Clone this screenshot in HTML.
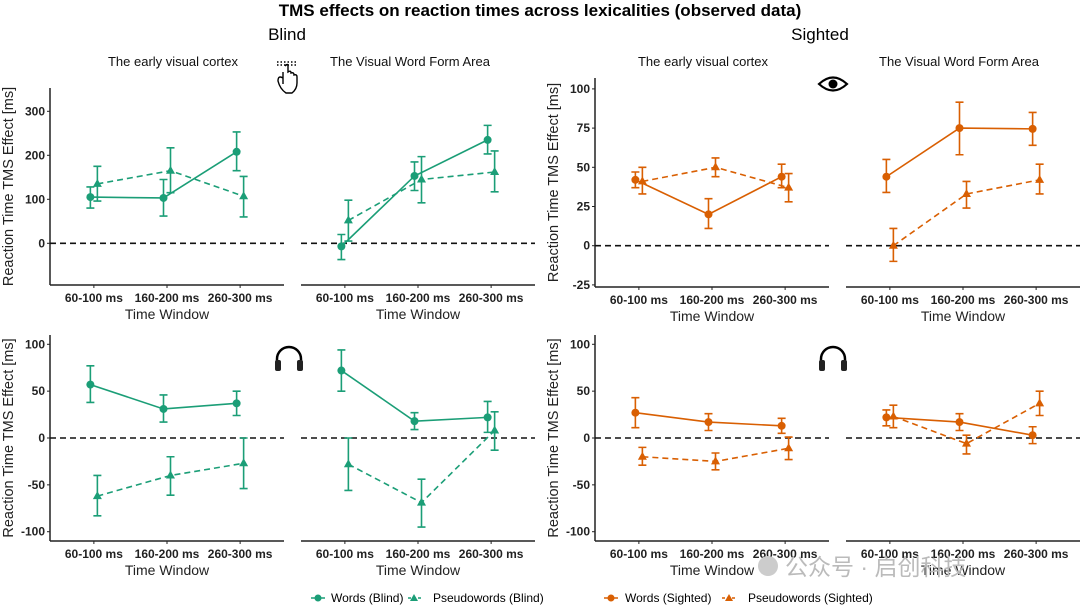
<!DOCTYPE html>
<html><head><meta charset="utf-8"><style>
body{margin:0;background:#fff;}
svg{display:block;font-family:"Liberation Sans",Arial,sans-serif;}
</style></head><body>
<svg id="chart" width="1080" height="607" viewBox="0 0 1080 607">
<text x="540" y="16" text-anchor="middle" font-size="17" font-weight="bold">TMS effects on reaction times across lexicalities (observed data)</text>
<text x="287" y="40" text-anchor="middle" font-size="17">Blind</text>
<text x="820" y="40" text-anchor="middle" font-size="17">Sighted</text>
<g id="panels"></g>
<g transform="translate(287,78)" fill="none" stroke="#000" stroke-width="1.4">
<path d="M-4,-6 v12 M-4,0 q-5,-3 -5,3 q2,8 8,12 h6 q5,-4 5,-10 v-6 q0,-3 -3,-2 q0,-3 -3,-2 q0,-3 -3,-1 v-6 q0,-3 -3,0"/>
<path d="M-10,-16 h20 M-10,-13 h20" stroke-dasharray="1.5 2"/>
</g>
<g transform="translate(833,84)">
<path d="M-14,0 Q0,-13 14,0 Q0,13 -14,0Z" fill="none" stroke="#000" stroke-width="2.2"/>
<circle r="4.5" fill="#000"/>
</g>
<g transform="translate(289,357)">
<path d="M-12,8 v-6 a12,12 0 0 1 24,0 v6" fill="none" stroke="#000" stroke-width="2.5"/>
<rect x="-14" y="3" width="6" height="11" rx="2" fill="#222"/><rect x="8" y="3" width="6" height="11" rx="2" fill="#222"/>
</g>
<g transform="translate(833,357)">
<path d="M-12,8 v-6 a12,12 0 0 1 24,0 v6" fill="none" stroke="#000" stroke-width="2.5"/>
<rect x="-14" y="3" width="6" height="11" rx="2" fill="#222"/><rect x="8" y="3" width="6" height="11" rx="2" fill="#222"/>
</g>
<g id="legend" font-size="12">
<g><line x1="311" y1="598" x2="325" y2="598" stroke="#1b9e77" stroke-width="1.5"/><circle cx="318" cy="598" r="3.5" fill="#1b9e77"/><text x="331" y="602">Words (Blind)</text></g>
<g><line x1="408" y1="598" x2="421" y2="598" stroke="#1b9e77" stroke-width="1.5" stroke-dasharray="3 2"/><path d="M414,594 l4,7 h-8z" fill="#1b9e77"/><text x="433" y="602">Pseudowords (Blind)</text></g>
<g><line x1="604" y1="598" x2="618" y2="598" stroke="#d95f02" stroke-width="1.5"/><circle cx="611" cy="598" r="3.5" fill="#d95f02"/><text x="625" y="602">Words (Sighted)</text></g>
<g><line x1="722" y1="598" x2="736" y2="598" stroke="#d95f02" stroke-width="1.5" stroke-dasharray="3 2"/><path d="M729,594 l4,7 h-8z" fill="#d95f02"/><text x="748" y="602">Pseudowords (Sighted)</text></g>
</g>
<g>
<circle cx="768" cy="566" r="10" fill="#ccc"/>
<text x="785" y="575" font-size="23" fill="#bbb" font-family="'Liberation Sans','Noto Sans CJK SC',sans-serif">公众号 · 启创科技</text>
</g>
</svg>
<script>
const categories = ["60-100 ms","160-200 ms","260-300 ms"];
const wordsTL = [105,103,208], wordsTLlo=[80,62,165], wordsTLhi=[128,145,253];
const pseudoTL = [135,165,107], pseudoTLlo=[96,115,60], pseudoTLhi=[175,217,152];
const wordsTL2 = [-7,153,235], wordsTL2lo=[-37,120,203], wordsTL2hi=[20,185,268];
const pseudoTL2 = [52,145,162], pseudoTL2lo=[5,92,117], pseudoTL2hi=[98,197,210];
const wordsTR = [42,20,44], wordsTRlo=[37,11,37], wordsTRhi=[47,30,52];
const pseudoTR = [41,50,37], pseudoTRlo=[33,44,28], pseudoTRhi=[50,56,46];
const wordsTR2 = [44,75,74.5], wordsTR2lo=[34,58,64], wordsTR2hi=[55,91.5,85];
const pseudoTR2 = [0,33,42], pseudoTR2lo=[-10,24,33], pseudoTR2hi=[11,41,52];
const wordsBL = [57,31,37], wordsBLlo=[38,17,24], wordsBLhi=[77,46,50];
const pseudoBL = [-62,-40,-27], pseudoBLlo=[-83,-61,-54], pseudoBLhi=[-40,-20,0];
const wordsBL2 = [72,18,22], wordsBL2lo=[50,9,6], wordsBL2hi=[94,27,39];
const pseudoBL2 = [-28,-69,8], pseudoBL2lo=[-56,-95,-13], pseudoBL2hi=[0,-44,28];
const wordsBR = [27,17,13], wordsBRlo=[11,8,5], wordsBRhi=[43,26,21];
const pseudoBR = [-20,-25,-11], pseudoBRlo=[-29,-34,-23], pseudoBRhi=[-10,-16,1];
const wordsBR2 = [22,17,3], wordsBR2lo=[13,8,-6], wordsBR2hi=[30,26,12];
const pseudoBR2 = [23,-6,37], pseudoBR2lo=[11,-17,24], pseudoBR2hi=[35,3,50];
const ticksBlindTop = [0,100,200,300];
const ticksSightedTop = [-25,0,25,50,75,100];
const ticksBottom = [-100,-50,0,50,100];

const NS="http://www.w3.org/2000/svg";
const root=document.getElementById('panels');
function mk(tag,attrs,parent){const e=document.createElementNS(NS,tag);for(const k in attrs)e.setAttribute(k,attrs[k]);(parent||root).appendChild(e);return e;}

function panel(name,x0,x1,top,bot,v0,vTop,vPerPx,ticks,showY,color,w,wlo,whi,p,plo,phi){
  const g=mk('g',{});
  
  
  const y=v=>v0 - v*vPerPx;
  const step=(x1-x0)/3.2;
  const xc=i=>x0+step*(0.6+i);
  const xa=mk('line',{x1:x0,y1:bot,x2:x1,y2:bot,stroke:'#222','stroke-width':1.5},g);
  
  
  if(showY){
    const ya=mk('line',{x1:x0,y1:top,x2:x0,y2:bot,stroke:'#222','stroke-width':1.5},g);
    
    
    ticks.forEach(t=>{
      mk('line',{x1:x0-3,y1:y(t),x2:x0,y2:y(t),stroke:'#222','stroke-width':1},g);
      const tl=mk('text',{x:x0-5,y:y(t)+4,'text-anchor':'end','font-size':12,'font-weight':'bold',fill:'#222'},g);
      tl.textContent=t;
      
      
    });
    const yt=mk('text',{transform:`translate(${x0-37},${(top+bot)/2}) rotate(-90)`,'text-anchor':'middle','font-size':14.5,fill:'#222'},g);
    yt.textContent='Reaction Time TMS Effect [ms]';
    
    
  }
  categories.forEach((c,i)=>{
    mk('line',{x1:xc(i),y1:bot,x2:xc(i),y2:bot+3,stroke:'#222','stroke-width':1},g);
    const t=mk('text',{x:xc(i),y:bot+17,'text-anchor':'middle','font-size':12,'font-weight':'bold',fill:'#222'},g);
    t.textContent=c;
    
    
  });
  const xt=mk('text',{x:(x0+x1)/2,y:bot+34,'text-anchor':'middle','font-size':14,fill:'#222'},g);
  xt.textContent='Time Window';
  
  
  const zl=mk('line',{x1:x0,y1:y(0),x2:x1,y2:y(0),stroke:'#111','stroke-width':1.6,'stroke-dasharray':'6 4'},g);
  
  
  function series(vals,lo,hi,dx,dashed,tri,sname){
    const sg=mk('g',{},g);
    
    
    const pts=vals.map((v,i)=>[xc(i)+dx,y(v)]);
    const pl=mk('polyline',{points:pts.map(q=>q.join(',')).join(' '),fill:'none',stroke:color,'stroke-width':1.6,'stroke-dasharray':dashed?'6 4':'none'},sg);
    
    
    vals.forEach((v,i)=>{
      const x=xc(i)+dx;
      const eb=mk('path',{d:`M${x-4},${y(hi[i])}h8M${x},${y(hi[i])}V${y(lo[i])}M${x-4},${y(lo[i])}h8`,stroke:color,'stroke-width':1.6,fill:'none'},sg);
      
      
      let m;
      if(tri) m=mk('path',{d:`M${x},${y(v)-5}l4.5,8h-9z`,fill:color},sg);
      else m=mk('circle',{cx:x,cy:y(v),r:4,fill:color},sg);
      
      
    });
  }
  series(w,wlo,whi,-3.5,false,false,'words-series');
  series(p,plo,phi,3.5,true,true,'pseudowords-series');
}
const G='#1b9e77',O='#d95f02';
panel('panel-blind-evc',50,284,88,285,243.3,0,0.44,ticksBlindTop,true,G,wordsTL,wordsTLlo,wordsTLhi,pseudoTL,pseudoTLlo,pseudoTLhi);
panel('panel-blind-vwfa',301,535,88,285,243.3,0,0.44,ticksBlindTop,false,G,wordsTL2,wordsTL2lo,wordsTL2hi,pseudoTL2,pseudoTL2lo,pseudoTL2hi);
panel('panel-sighted-evc',595,829,78,287,245.7,0,1.568,ticksSightedTop,true,O,wordsTR,wordsTRlo,wordsTRhi,pseudoTR,pseudoTRlo,pseudoTRhi);
panel('panel-sighted-vwfa',846,1080,78,287,245.7,0,1.568,ticksSightedTop,false,O,wordsTR2,wordsTR2lo,wordsTR2hi,pseudoTR2,pseudoTR2lo,pseudoTR2hi);
panel('panel-blind-evc-auditory',50,284,335,541,438,0,0.937,ticksBottom,true,G,wordsBL,wordsBLlo,wordsBLhi,pseudoBL,pseudoBLlo,pseudoBLhi);
panel('panel-blind-vwfa-auditory',301,535,335,541,438,0,0.937,ticksBottom,false,G,wordsBL2,wordsBL2lo,wordsBL2hi,pseudoBL2,pseudoBL2lo,pseudoBL2hi);
panel('panel-sighted-evc-auditory',595,829,335,541,438,0,0.937,ticksBottom,true,O,wordsBR,wordsBRlo,wordsBRhi,pseudoBR,pseudoBRlo,pseudoBRhi);
panel('panel-sighted-vwfa-auditory',846,1080,335,541,438,0,0.937,ticksBottom,false,O,wordsBR2,wordsBR2lo,wordsBR2hi,pseudoBR2,pseudoBR2lo,pseudoBR2hi);
const strips=[["The early visual cortex",173],["The Visual Word Form Area",410],["The early visual cortex",703],["The Visual Word Form Area",959]];
strips.forEach(s=>{
  const t=mk('text',{x:s[1],y:66,'text-anchor':'middle','font-size':13,fill:'#111'});
  t.textContent=s[0];
  
  
});
</script>
</body></html>
